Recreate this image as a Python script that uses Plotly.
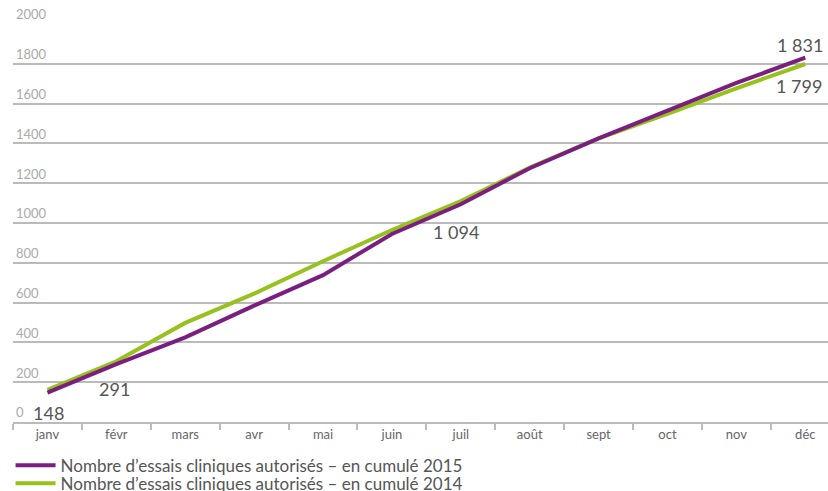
import plotly.graph_objects as go

months = ["janv", "févr", "mars", "avr", "mai", "juin", "juil", "août", "sept", "oct", "nov", "déc"]
cumul_2015 = [148, 291, 425, 585, 738, 945, 1094, 1275, 1425, 1562, 1704, 1831]
cumul_2014 = [162, 305, 498, 645, 808, 965, 1110, 1278, 1425, 1548, 1677, 1799]
name_2015 = "Nombre d’essais cliniques autorisés – en cumulé 2015"
name_2014 = "Nombre d’essais cliniques autorisés – en cumulé 2014"
y_ticks = [0, 200, 400, 600, 800, 1000, 1200, 1400, 1600, 1800, 2000]

PURPLE = "#7a1f7f"
GREEN = "#97c11f"
FONT = "Lato, 'Open Sans', sans-serif"

fig = go.Figure()
# 2014 first so the 2015 line sits on top; each series gets its own legend row
fig.add_trace(go.Scatter(x=months, y=cumul_2014, mode="lines", name=name_2014,
                         line=dict(color=GREEN, width=4), legend="legend2"))
fig.add_trace(go.Scatter(x=months, y=cumul_2015, mode="lines", name=name_2015,
                         line=dict(color=PURPLE, width=4), legend="legend"))

def fmt(v):
    return f"{v:,}".replace(",", " ")

# value labels: (series, month index, x shift, y shift)
labels = [
    (cumul_2015, 0, 1, -20),
    (cumul_2015, 1, -2, -25),
    (cumul_2015, 6, -5, -28),
    (cumul_2015, 11, -5, 13),
    (cumul_2014, 11, -6, -22),
]
for series, i, dx, dy in labels:
    fig.add_annotation(x=months[i], y=series[i], text=fmt(series[i]), showarrow=False,
                       xshift=dx, yshift=dy,
                       font=dict(family=FONT, size=18, color="#555555"))

legend_style = dict(orientation="v", x=-0.003, xanchor="left", yanchor="middle",
                    font=dict(family=FONT, size=17, color="#555555"),
                    itemwidth=40, bgcolor="rgba(0,0,0,0)")

fig.update_layout(
    width=828, height=491,
    margin=dict(l=13, r=0, t=24, b=69, autoexpand=False),
    plot_bgcolor="white", paper_bgcolor="white",
    showlegend=True,
    legend=dict(y=-0.11, **legend_style),
    legend2=dict(y=-0.155, **legend_style),
    font=dict(family=FONT),
)
fig.update_xaxes(
    type="category", categoryorder="array", categoryarray=months,
    range=[-0.5, 11.33], tickson="boundaries", ticks="outside", ticklen=6,
    tickcolor="#bbbbbb", tickwidth=1.5,
    showline=True, linecolor="#bbbbbb", linewidth=1.5,
    showgrid=False, tickfont=dict(family=FONT, size=13, color="#666666"),
)
fig.update_yaxes(
    range=[0, 2000], tickvals=y_ticks, ticktext=[str(v) for v in y_ticks],
    ticklabelposition="inside top", ticklabeloverflow="allow",
    showgrid=True, gridcolor="#bbbbbb", gridwidth=1.5,
    zeroline=False, showline=False, ticks="",
    tickfont=dict(family=FONT, size=13, color="#aaaaaa"),
)

fig.write_html("out.html")
